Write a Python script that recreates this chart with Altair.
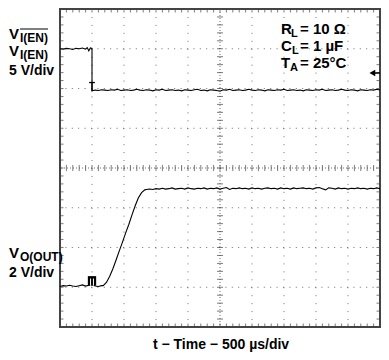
import altair as alt
import numpy as np
import pandas as pd

FONT = "Liberation Sans"

# ---------------- trace values (scope divisions: 10 across, 8 up) ----------------
# Channel 1: V_I(EN), 5 V/div
en_t_high = [0.0, 0.1, 0.2, 0.3, 0.4, 0.5, 0.6, 0.7, 0.8, 0.85, 0.9, 0.95, 1.0]
en_v_high = [7.00, 6.99, 7.01, 7.00, 6.98, 7.01, 7.00, 7.02, 6.99, 7.03, 6.95, 7.02, 7.01]
en_t_low = [round(1.0 + 0.1 * i, 2) for i in range(91)]
en_v_low = [
    5.94, 5.96, 5.95, 5.97, 5.96, 5.95, 5.97, 5.96, 5.98, 5.95,
    5.96, 5.97, 5.95, 5.96, 5.98, 5.96, 5.95, 5.97, 5.96, 5.94,
    5.97, 5.96, 5.98, 5.95, 5.96, 5.97, 5.95, 5.96, 5.94, 5.97,
    5.96, 5.95, 5.97, 5.98, 5.95, 5.96, 5.94, 5.97, 5.96, 5.95,
    5.93, 5.97, 5.96, 5.98, 5.95, 5.96, 5.97, 5.95, 5.96, 5.98,
    5.96, 5.95, 5.97, 5.96, 5.94, 5.97, 5.96, 5.95, 5.97, 5.96,
    5.98, 5.95, 5.96, 5.97, 5.95, 5.96, 5.94, 5.97, 5.96, 5.95,
    5.97, 5.96, 5.98, 5.95, 5.96, 5.97, 5.95, 5.96, 5.98, 5.96,
    5.95, 5.97, 5.96, 5.94, 5.97, 5.96, 5.95, 5.97, 5.96, 5.98, 5.96,
]

# Channel 2: V_O(OUT), 2 V/div
out_t_low = [round(0.1 * i, 2) for i in range(14)]
out_v_low = [1.02, 1.04, 1.03, 1.05, 1.03, 1.02, 1.04, 1.06, 1.03, 1.05, 1.07, 1.03, 1.02, 1.04]
out_t_rise = [1.35, 1.45, 1.55, 1.65, 1.75, 1.85, 1.95, 2.05, 2.15, 2.25, 2.35, 2.45, 2.55, 2.65]
out_v_rise = [1.04, 1.12, 1.27, 1.46, 1.68, 1.91, 2.13, 2.36, 2.58, 2.82, 3.05, 3.25, 3.38, 3.45]
out_t_high = [round(2.7 + 0.1 * i, 2) for i in range(74)]
out_v_high = [
    3.46, 3.47, 3.46, 3.48, 3.47, 3.49, 3.47, 3.48, 3.50, 3.47,
    3.48, 3.49, 3.47, 3.50, 3.48, 3.47, 3.49, 3.48, 3.50, 3.47,
    3.49, 3.48, 3.50, 3.47, 3.49, 3.51, 3.46, 3.49, 3.48, 3.50,
    3.48, 3.49, 3.47, 3.50, 3.48, 3.49, 3.47, 3.49, 3.50, 3.48,
    3.49, 3.47, 3.50, 3.48, 3.49, 3.47, 3.50, 3.48, 3.49, 3.50,
    3.48, 3.49, 3.47, 3.50, 3.51, 3.48, 3.45, 3.50, 3.49, 3.47,
    3.50, 3.48, 3.49, 3.47, 3.49, 3.48, 3.50, 3.48, 3.49, 3.47,
    3.49, 3.48, 3.50, 3.48,
]

# markers (divisions)
trig_t, trig_v, trig_bottom = 1.0, 6.15, 5.93   # trigger "T" on channel 1
gnd_t, gnd_v = 1.0, 1.16                         # channel-2 reference marker
arrow_t, arrow_v = 9.76, 6.39                    # trigger level arrow

# grid
grid_t = [1, 2, 3, 4, 6, 7, 8, 9]
grid_v = [1, 2, 3, 5, 6, 7]
minor_t = [round(0.2 * i, 2) for i in range(51)]
minor_v = [round(0.2 * i, 2) for i in range(41)]

W, H = 320, 318

# ---------------- build ----------------
traces = pd.concat([
    pd.DataFrame({"t": en_t_high + en_t_low, "v": en_v_high + en_v_low, "ch": "en"}),
    pd.DataFrame({"t": out_t_low + out_t_rise + out_t_high,
                  "v": out_v_low + out_v_rise + out_v_high, "ch": "out"}),
], ignore_index=True)
traces["i"] = range(len(traces))

XS = alt.Scale(domain=[0, 10], nice=False, zero=False)
YS = alt.Scale(domain=[0, 8], nice=False, zero=False)
X = alt.X("t:Q", scale=XS, axis=None)
Y = alt.Y("v:Q", scale=YS, axis=None)
X2 = alt.X2("t2:Q")
Y2 = alt.Y2("v2:Q")

GRID = "#6e6e6e"
EDGE = "#444444"

vgrid = alt.Chart(pd.DataFrame({"t": grid_t})).mark_rule(
    color=GRID, strokeWidth=1, strokeDash=[1, H / 40 - 1]).encode(x=X)
hgrid = alt.Chart(pd.DataFrame({"v": grid_v})).mark_rule(
    color=GRID, strokeWidth=1, strokeDash=[1, W / 50 - 1]).encode(y=Y)
vcenter = alt.Chart(pd.DataFrame({"t": [5]})).mark_rule(
    color=GRID, strokeWidth=1, strokeDash=[1, 2]).encode(x=X)
hcenter = alt.Chart(pd.DataFrame({"v": [4]})).mark_rule(
    color=GRID, strokeWidth=1, strokeDash=[1, 2]).encode(y=Y)

vc_ticks = alt.Chart(pd.DataFrame({"t": [5] * len(minor_v), "v": minor_v})).mark_tick(
    orient="horizontal", size=6, thickness=1, color=EDGE).encode(x=X, y=Y)
hc_ticks = alt.Chart(pd.DataFrame({"t": minor_t, "v": [4] * len(minor_t)})).mark_tick(
    orient="vertical", size=6, thickness=1, color=EDGE).encode(x=X, y=Y)
edge_lr = alt.Chart(pd.DataFrame({"t": [0] * len(minor_v) + [10] * len(minor_v),
                                  "v": minor_v + minor_v})).mark_tick(
    orient="horizontal", size=7, thickness=1, color=EDGE, clip=True).encode(x=X, y=Y)
edge_tb = alt.Chart(pd.DataFrame({"t": minor_t + minor_t,
                                  "v": [0] * len(minor_t) + [8] * len(minor_t)})).mark_tick(
    orient="vertical", size=7, thickness=1, color=EDGE, clip=True).encode(x=X, y=Y)

lines = alt.Chart(traces).mark_line(color="black", strokeWidth=1.1).encode(
    x=X, y=Y, detail="ch:N", order="i:Q")

trig_v_rule = alt.Chart(pd.DataFrame({"t": [trig_t], "v": [trig_v], "v2": [trig_bottom]})).mark_rule(
    color="black", strokeWidth=1.3).encode(x=X, y=Y, y2=Y2)
trig_h_rule = alt.Chart(pd.DataFrame({"t": [trig_t - 0.09], "t2": [trig_t + 0.09], "v": [trig_v]})).mark_rule(
    color="black", strokeWidth=1.3).encode(x=X, x2=X2, y=Y)

gnd_box = alt.Chart(pd.DataFrame({"t": [gnd_t - 0.13], "t2": [gnd_t + 0.13],
                                  "v": [gnd_v - 0.12], "v2": [gnd_v + 0.12]})).mark_rect(
    color="black").encode(x=X, x2=X2, y=Y, y2=Y2)
gnd_white = alt.Chart(pd.DataFrame({"t": [gnd_t - 0.045, gnd_t + 0.045],
                                    "v": [gnd_v - 0.12] * 2, "v2": [gnd_v + 0.06] * 2})).mark_rule(
    color="white", strokeWidth=1).encode(x=X, y=Y, y2=Y2)

arrow = alt.Chart(pd.DataFrame({"t": [arrow_t], "v": [arrow_v]})).mark_point(
    shape="triangle-left", filled=True, color="black", size=45, opacity=1).encode(x=X, y=Y)
arrow_tail = alt.Chart(pd.DataFrame({"t": [arrow_t], "t2": [10], "v": [arrow_v]})).mark_rule(
    color="black", strokeWidth=1.5).encode(x=X, x2=X2, y=Y)

one = pd.DataFrame({"k": [0]})


def label(txt, x, y, size, align="left"):
    return alt.Chart(one).mark_text(
        text=txt, font=FONT, fontWeight="bold", fontSize=size, align=align,
        baseline="alphabetic", color="black").encode(x=alt.value(x), y=alt.value(y))


def bar(x1, x2, y):
    return alt.Chart(one).mark_rule(color="black", strokeWidth=1).encode(
        x=alt.value(x1), x2=alt.value(x2), y=alt.value(y))


texts = [
    label("V", -51, 30, 15), label("I(EN)", -40, 33, 12), bar(-40, -12, 20),
    label("V", -51, 47, 15), label("I(EN)", -40, 50, 12),
    label("5 V/div", -51, 66, 14),
    label("V", -51, 249, 15), label("O(OUT)", -40, 252, 12),
    label("2 V/div", -51, 268, 14),
    label("R", 221, 25, 15), label("L", 231, 28, 11), label("= 10 Ω", 240, 25, 15),
    label("C", 221, 42, 15), label("L", 232, 45, 11), label("= 1 µF", 240, 42, 15),
    label("T", 221, 59, 15), label("A", 230, 62, 11), label("= 25°C", 240, 59, 15),
    label("t − Time − 500 µs/div", W / 2 + 1, 340, 14, align="center"),
]

chart = alt.layer(
    vgrid, hgrid, vcenter, hcenter, vc_ticks, hc_ticks, edge_lr, edge_tb,
    lines, trig_v_rule, trig_h_rule, gnd_box, gnd_white, arrow, arrow_tail,
    *texts,
).properties(
    width=W, height=H,
    autosize=alt.AutoSizeParams(type="none"),
    padding={"left": 52, "top": 1, "right": 1, "bottom": 344 - 1 - H},
    background="white",
).configure_view(stroke=EDGE, strokeWidth=2)

chart.save("out.html", embed_options={"renderer": "svg", "actions": False})
